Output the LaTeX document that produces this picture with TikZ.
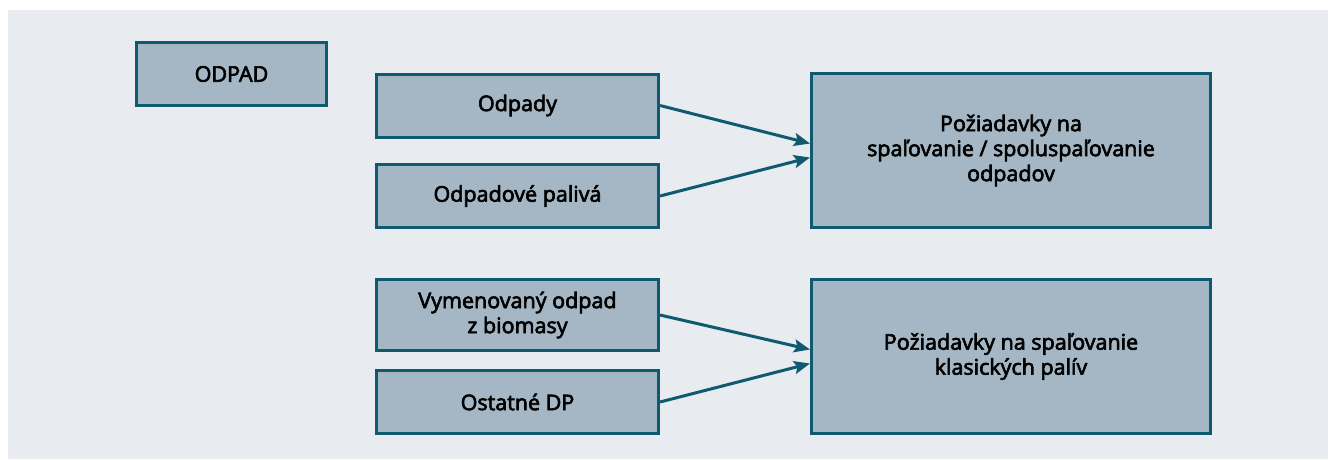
\documentclass[tikz,border=0pt]{standalone}
\usepackage{fontspec}
\setmainfont{Open Sans}
\newfontfamily\boxfont{Open Sans}[FakeBold=3]
\usepackage{tikz}
\usetikzlibrary{arrows.meta}

\definecolor{bgpanel}{HTML}{E8ECF1}
\definecolor{boxfill}{HTML}{A5B7C4}
\definecolor{boxline}{HTML}{0F5A6E}

\tikzset{
  box/.style={draw=boxline,fill=boxfill,line width=3pt,align=center,
    inner sep=0pt,font=\boxfont\fontsize{21.5}{25}\selectfont},
  srcbox/.style={box,minimum width=282pt,minimum height=63pt},
  reqbox/.style={box,minimum width=399pt,minimum height=154pt},
  arr/.style={draw=boxline,line width=3pt,
    -{Stealth[length=16pt,width=13pt,inset=3pt]}},
}

\begin{document}
\begin{tikzpicture}[x=1pt,y=-1pt]%[line cap=round,line join=round]
\useasboundingbox (0,0) rectangle (1328,459);
\fill [bgpanel] (8,10) rectangle (1328,459);

\node [box,minimum width=190pt,minimum height=63pt] (odpad) at (231.5,74) {ODPAD};

\node [srcbox] (odpady) at (517.5,105.5) {Odpady};
\node [srcbox] (paliva) at (517.5,196) {Odpadové palivá};
\node [reqbox] (spalodp) at (1011,150.5) {Požiadavky na\\spaľovanie / spoluspaľovanie\\odpadov};

\node [srcbox,minimum height=71pt] (biomasa) at (517.5,315) {Vymenovaný odpad\\z biomasy};
\node [srcbox] (ostatne) at (517.5,402) {Ostatné DP};
\node [reqbox] (spalklas) at (1011,356.5) {Požiadavky na spaľovanie\\klasických palív};

\draw [arr] (odpady.east) -- ([yshift=7pt]spalodp.west);
\draw [arr] (paliva.east) -- ([yshift=-7pt]spalodp.west);
\draw [arr] (biomasa.east) -- ([yshift=7pt]spalklas.west);
\draw [arr] (ostatne.east) -- ([yshift=-7pt]spalklas.west);
\end{tikzpicture}
\end{document}
